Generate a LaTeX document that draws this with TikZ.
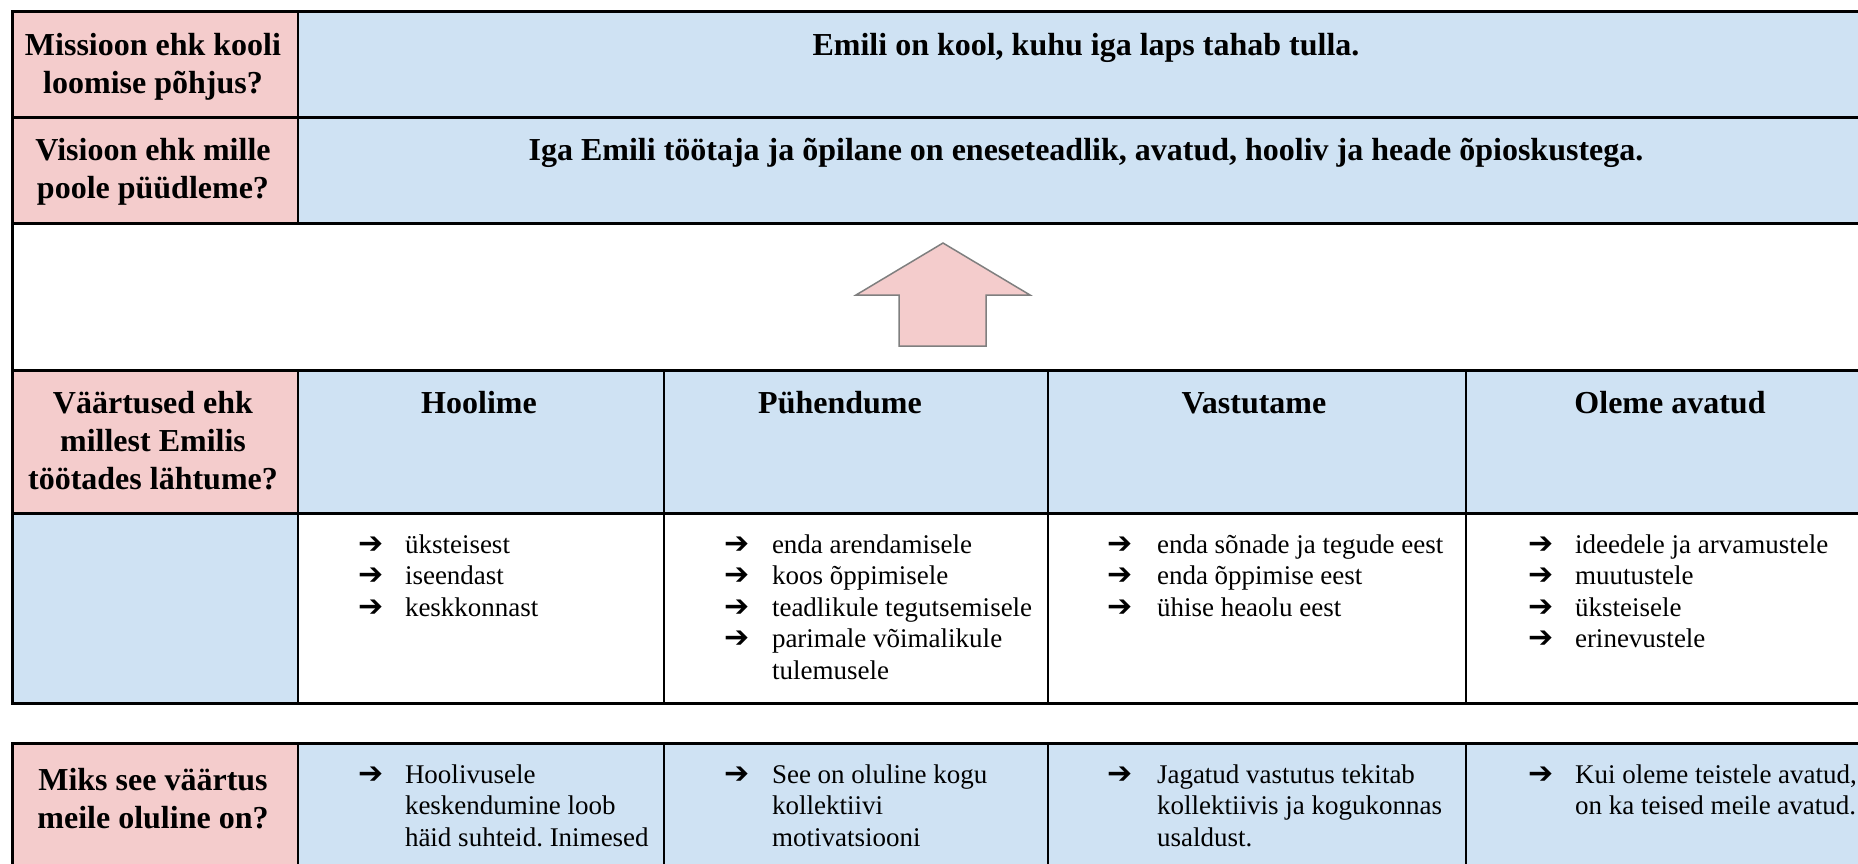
\documentclass[tikz,border=0pt]{standalone}
\usepackage{fontspec}
\setmainfont{Liberation Serif}
\newfontfamily\arrowfont{DejaVu Sans}
\usepackage{tikz}
\frenchspacing
\definecolor{rowpink}{HTML}{F4CCCC}
\definecolor{rowblue}{HTML}{CFE2F3}
\definecolor{arrowgray}{HTML}{7F7F7F}

\begin{document}
\begin{tikzpicture}[x=1pt,y=-1pt]
	\tikzstyle{every node}=[inner sep=0pt,outer sep=0pt]
	\tikzstyle{headtext}=[font=\bfseries\fontsize{32}{38}\selectfont,align=center,anchor=base]
	\tikzstyle{listtext}=[font=\fontsize{27}{31.5}\selectfont,align=left,anchor=base west]
	\tikzstyle{listarrow}=[font=\arrowfont\bfseries\fontsize{30}{31.5}\selectfont,align=left,anchor=base west]
	\tikzstyle{thickrule}=[line width=3pt]
	\tikzstyle{thinrule}=[line width=2pt]
	\useasboundingbox (0,0) rectangle (1858,863);
	\clip (0,0) rectangle (1858,863);

	\fill[rowpink] (12,11.5) rectangle (298,223);
	\fill[rowblue] (298,11.5) rectangle (1873,223);
	\fill[rowpink] (12,370) rectangle (298,513);
	\fill[rowblue] (298,370) rectangle (1873,513);
	\fill[rowblue] (12,513) rectangle (298,703);
	\fill[rowpink] (12,743) rectangle (298,880);
	\fill[rowblue] (298,743) rectangle (1873,880);

	\draw[thinrule] (298,11.5) -- (298,223);
	\draw[thinrule] (298,370) -- (298,703);
	\draw[thinrule] (664,370) -- (664,703);
	\draw[thinrule] (1048,370) -- (1048,703);
	\draw[thinrule] (1466,370) -- (1466,703);
	\draw[thinrule] (298,743) -- (298,880);
	\draw[thinrule] (664,743) -- (664,880);
	\draw[thinrule] (1048,743) -- (1048,880);
	\draw[thinrule] (1466,743) -- (1466,880);

	\draw[thickrule] (12,11.5) rectangle (1873,703);
	\draw[thickrule] (12,117) -- (1873,117);
	\draw[thickrule] (12,223) -- (1873,223);
	\draw[thickrule] (12,370) -- (1873,370);
	\draw[thickrule] (12,513) -- (1873,513);
	\draw[thickrule] (12,743) rectangle (1873,900);

	\draw[fill=rowpink,draw=arrowgray,line width=1.5pt] (943,243) -- (1030,295) -- (986,295) -- (986,346) -- (899,346) -- (899,295) -- (856,295) -- cycle;

	\node[headtext] (missionlabel) at (153,93) {Missioon ehk kooli\\loomise põhjus?};
	\node[headtext] (mission) at (1086,55) {Emili on kool, kuhu iga laps tahab tulla.};
	\node[headtext] (visionlabel) at (153,198) {Visioon ehk mille\\poole püüdleme?};
	\node[headtext] (vision) at (1086,160) {Iga Emili töötaja ja õpilane on eneseteadlik, avatud, hooliv ja heade õpioskustega.};

	\node[headtext] (valueslabel) at (153,489) {Väärtused ehk\\millest Emilis\\töötades lähtume?};
	\node[headtext] (caring) at (479,413) {Hoolime};
	\node[headtext] (devoted) at (840,413) {Pühendume};
	\node[headtext] (responsible) at (1254,413) {Vastutame};
	\node[headtext] (open) at (1670,413) {Oleme avatud};

	\node[listarrow] (caringarrows) at (358,616) {➔\\➔\\➔};
	\node[listtext] (caringlist) at (405,616) {üksteisest\\iseendast\\keskkonnast};
	\node[listarrow] (devotedarrows) at (724,647.5) {➔\\➔\\➔\\➔};
	\node[listtext] (devotedlist) at (772,679) {enda arendamisele\\koos õppimisele\\teadlikule tegutsemisele\\parimale võimalikule\\tulemusele};
	\node[listarrow] (responsiblearrows) at (1107,616) {➔\\➔\\➔};
	\node[listtext] (responsiblelist) at (1157,616) {enda sõnade ja tegude eest\\enda õppimise eest\\ühise heaolu eest};
	\node[listarrow] (openarrows) at (1528,647.5) {➔\\➔\\➔\\➔};
	\node[listtext] (openlist) at (1575,647.5) {ideedele ja arvamustele\\muutustele\\üksteisele\\erinevustele};

	\node[headtext] (whylabel) at (153,828) {Miks see väärtus\\meile oluline on?};
	\node[listarrow] (caringwhyarrow) at (358,783) {➔};
	\node[listtext] (caringwhy) at (405,846) {Hoolivusele\\keskendumine loob\\häid suhteid. Inimesed};
	\node[listarrow] (devotedwhyarrow) at (724,783) {➔};
	\node[listtext] (devotedwhy) at (772,846) {See on oluline kogu\\kollektiivi\\motivatsiooni};
	\node[listarrow] (responsiblewhyarrow) at (1107,783) {➔};
	\node[listtext] (responsiblewhy) at (1157,846) {Jagatud vastutus tekitab\\kollektiivis ja kogukonnas\\usaldust.};
	\node[listarrow] (openwhyarrow) at (1528,783) {➔};
	\node[listtext] (openwhy) at (1575,814.5) {Kui oleme teistele avatud,\\on ka teised meile avatud.};
\end{tikzpicture}
\end{document}
